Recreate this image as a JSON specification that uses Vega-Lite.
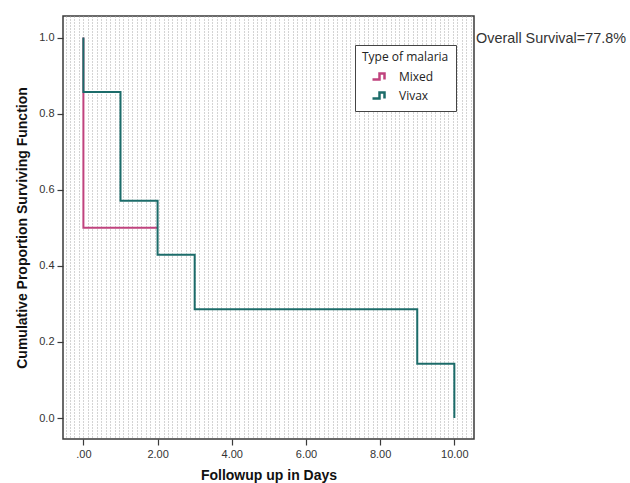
{
  "$schema": "https://vega.github.io/schema/vega-lite/v6.json",
  "width": 411,
  "height": 423,
  "autosize": "none",
  "padding": {"left": 63, "top": 16, "right": 156, "bottom": 44},
  "background": "white",
  "config": {
    "view": {"stroke": "#3a3a3a", "strokeWidth": 1.5, "fill": "white"},
    "font": "Liberation Sans"
  },
  "title": {
    "text": "Overall Survival=77.8%",
    "anchor": "end",
    "frame": "group",
    "orient": "top",
    "align": "left",
    "baseline": "alphabetic",
    "dx": 2,
    "dy": 41,
    "offset": 0,
    "font": "Liberation Sans",
    "fontSize": 14.4,
    "fontWeight": "normal",
    "color": "#333333"
  },
  "data": {
    "values": [
      {"group": "Mixed", "ord": 1, "t": 0, "s": 1.0},
      {"group": "Mixed", "ord": 2, "t": 0, "s": 0.5},
      {"group": "Mixed", "ord": 3, "t": 2, "s": 0.5},
      {"group": "Vivax", "ord": 1, "t": 0, "s": 1.0},
      {"group": "Vivax", "ord": 2, "t": 0, "s": 0.857},
      {"group": "Vivax", "ord": 3, "t": 1, "s": 0.571},
      {"group": "Vivax", "ord": 4, "t": 2, "s": 0.429},
      {"group": "Vivax", "ord": 5, "t": 3, "s": 0.286},
      {"group": "Vivax", "ord": 6, "t": 9, "s": 0.143},
      {"group": "Vivax", "ord": 7, "t": 10, "s": 0.0}
    ]
  },
  "resolve": {"axis": {"x": "independent"}},
  "layer": [
    {
      "mark": {"type": "rule", "opacity": 0},
      "encoding": {
        "x": {
          "field": "t",
          "type": "quantitative",
          "scale": {"domain": [-0.55, 10.53], "nice": false, "zero": false},
          "axis": {
            "orient": "top",
            "title": null,
            "labels": false,
            "ticks": false,
            "domain": false,
            "grid": true,
            "gridColor": "#a8a8a8",
            "gridWidth": 1,
            "gridDash": [1, 2],
            "values": [-0.48,-0.36,-0.24,-0.12,0,0.12,0.24,0.36,0.48,0.6,0.72,0.84,0.96,1.08,1.2,1.32,1.44,1.56,1.68,1.8,1.92,2.04,2.16,2.28,2.4,2.52,2.64,2.76,2.88,3,3.12,3.24,3.36,3.48,3.6,3.72,3.84,3.96,4.08,4.2,4.32,4.44,4.56,4.68,4.8,4.92,5.04,5.16,5.28,5.4,5.52,5.64,5.76,5.88,6,6.12,6.24,6.36,6.48,6.6,6.72,6.84,6.96,7.08,7.2,7.32,7.44,7.56,7.68,7.8,7.92,8.04,8.16,8.28,8.4,8.52,8.64,8.76,8.88,9,9.12,9.24,9.36,9.48,9.6,9.72,9.84,9.96,10.08,10.2,10.32,10.44]
          }
        }
      }
    },
    {
      "mark": {"type": "line", "interpolate": "step-after", "strokeWidth": 2},
      "encoding": {
        "x": {
          "field": "t",
          "type": "quantitative",
          "scale": {"domain": [-0.55, 10.53], "nice": false, "zero": false},
          "axis": {
            "title": "Followup up in Days",
            "values": [0, 2, 4, 6, 8, 10],
            "labelExpr": "datum.value == 0 ? '.00' : format(datum.value, '.2f')",
            "grid": false,
            "domain": false,
            "tickColor": "#3a3a3a",
            "tickSize": 6,
            "tickWidth": 1.2,
            "labelFont": "Liberation Sans",
            "labelFontSize": 11,
            "labelColor": "#333333",
            "labelPadding": 3,
            "titleFont": "Liberation Sans",
            "titleFontSize": 14,
            "titleFontWeight": "bold",
            "titleColor": "#111111",
            "titlePadding": 9
          }
        },
        "y": {
          "field": "s",
          "type": "quantitative",
          "scale": {"domain": [-0.055, 1.0565], "nice": false, "zero": false},
          "axis": {
            "title": "Cumulative Proportion Surviving Function",
            "values": [0, 0.2, 0.4, 0.6, 0.8, 1.0],
            "format": ".1f",
            "grid": false,
            "domain": false,
            "tickColor": "#3a3a3a",
            "tickSize": 6,
            "tickWidth": 1.2,
            "labelFont": "Liberation Sans",
            "labelFontSize": 11,
            "labelColor": "#333333",
            "labelPadding": 3,
            "titleFont": "Liberation Sans",
            "titleFontSize": 14,
            "titleFontWeight": "bold",
            "titleColor": "#111111",
            "titlePadding": 9
          }
        },
        "order": {"field": "ord", "type": "quantitative"},
        "color": {
          "field": "group",
          "type": "nominal",
          "scale": {"domain": ["Mixed", "Vivax"], "range": ["#c0437e", "#1c6c6a"]},
          "legend": {
            "title": "Type of malaria",
            "orient": "none",
            "legendX": 292,
            "legendY": 29,
            "fillColor": "white",
            "strokeColor": "#444444",
            "padding": 7,
            "titleFont": "Open Sans",
            "titleFontSize": 12,
            "titleFontWeight": "normal",
            "titleColor": "#222222",
            "titlePadding": 6,
            "labelFont": "Open Sans",
            "labelFontSize": 12,
            "labelColor": "#222222",
            "labelOffset": 14,
            "symbolType": "M-1.2,0.6L0.2,0.6L0.2,-0.6L1.2,-0.6L1.2,0.6",
            "symbolSize": 100,
            "symbolStrokeWidth": 2.5,
            "symbolFillColor": "transparent",
            "symbolOffset": 10,
            "rowPadding": 2,
            "offset": 0
          }
        }
      }
    }
  ]
}
